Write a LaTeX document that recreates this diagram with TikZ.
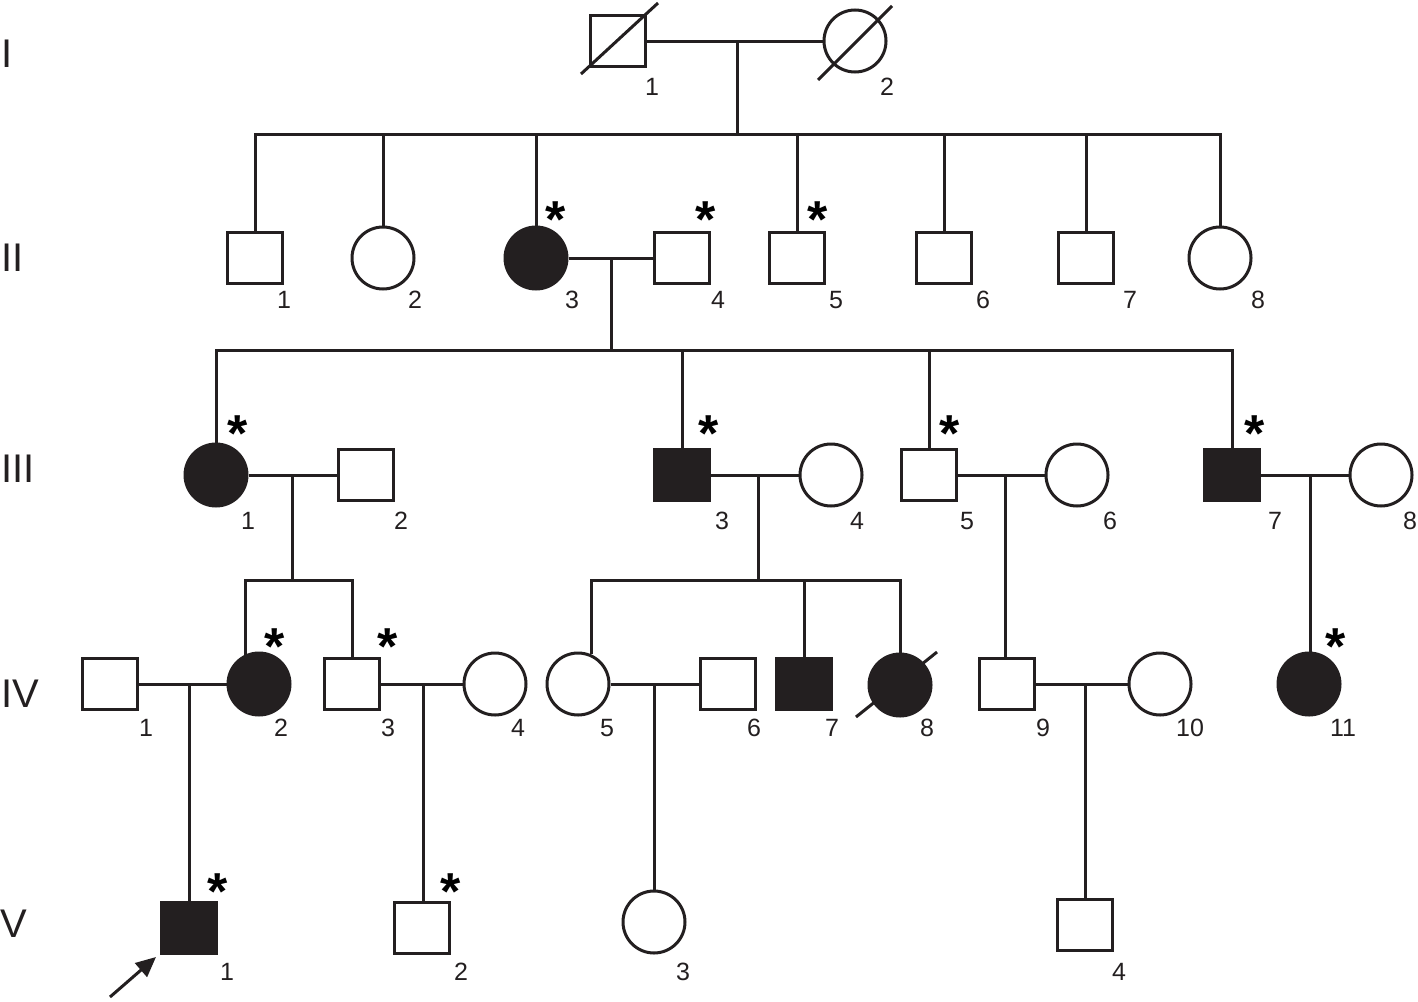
\documentclass[tikz,border=0pt]{standalone}
\usepackage{fontspec}
\setmainfont{Liberation Sans}
\usetikzlibrary{arrows.meta}
\definecolor{ink}{RGB}{35,31,32}
\begin{document}
\begin{tikzpicture}[x=1pt,y=-1pt,
  link/.style={line width=3pt,draw=ink},
  male/.style={draw=ink,rectangle,minimum width=55pt,minimum height=51pt,inner sep=0pt,line width=3pt,fill=white},
  female/.style={draw=ink,circle,minimum size=62pt,inner sep=0pt,line width=3pt,fill=white},
  aff/.style={fill=ink},
  num/.style={font=\fontsize{25}{25}\selectfont,inner sep=0pt,text=ink},
  gen/.style={font=\fontsize{40}{40}\selectfont,anchor=west,inner sep=0pt,text=ink},
  star/.style={font=\fontsize{52}{52}\selectfont\bfseries,inner sep=0pt,anchor=north,text=black},
]
\useasboundingbox (0,0) rectangle (1418,1001);

% generation labels
\node[gen] (gI) at (1,54) {I};
\node[gen] (gII) at (1,258) {II};
\node[gen] (gIII) at (1,469) {III};
\node[gen] (gIV) at (1,694) {IV};
\node[gen] (gV) at (0,924) {V};

% Generation I
\node[male] (I1) at (618,41) {};
\node[female] (I2) at (855,41) {};
\draw[link] (I1.center) ++(-37,33) -- ++(77,-71);
\draw[link] (I2.center) ++(-37,39) -- ++(74,-74);
\node[num] (nI1) at (652,87) {1};
\node[num] (nI2) at (887,87) {2};

% Generation II
\node[male] (II1) at (255,258) {};
\node[female] (II2) at (383,258) {};
\node[female,aff] (II3) at (536,258) {};
\node[male] (II4) at (682,258) {};
\node[male] (II5) at (797,258) {};
\node[male] (II6) at (944,258) {};
\node[male] (II7) at (1086,258) {};
\node[female] (II8) at (1220,258) {};
\foreach \n/\x in {1/284,2/415,3/572,4/718,5/836,6/983,7/1130,8/1258}
  \node[num] (nII\n) at (\x,300) {\n};

% Generation III
\node[female,aff] (III1) at (216,475) {};
\node[male] (III2) at (366,475) {};
\node[male,aff] (III3) at (682,475) {};
\node[female] (III4) at (831,475) {};
\node[male] (III5) at (929,475) {};
\node[female] (III6) at (1077,475) {};
\node[male,aff] (III7) at (1232,475) {};
\node[female] (III8) at (1381,475) {};
\foreach \n/\x in {1/248,2/401,3/722,4/857,5/967,6/1110,7/1275,8/1410}
  \node[num] (nIII\n) at (\x,521) {\n};

% Generation IV
\node[male] (IV1) at (110,684) {};
\node[female,aff] (IV2) at (259,684) {};
\node[male] (IV3) at (352,684) {};
\node[female] (IV4) at (495,684) {};
\node[female] (IV5) at (578,684) {};
\node[male] (IV6) at (728,684) {};
\node[male,aff] (IV7) at (804,684) {};
\node[female,aff] (IV8) at (900,685) {};
\node[male] (IV9) at (1007,684) {};
\node[female] (IV10) at (1160,684) {};
\node[female,aff] (IV11) at (1309,684) {};
\draw[link] (IV8.center) ++(-44,32) -- ++(81,-65);
\foreach \n/\x in {1/146,2/281,3/388,4/518,5/607,6/754,7/832,8/927,9/1043,10/1190,11/1343}
  \node[num] (nIV\n) at (\x,728) {\n};

% Generation V
\node[male,aff] (V1) at (189,928) {};
\node[male] (V2) at (422,928) {};
\node[female] (V3) at (654,922) {};
\node[male] (V4) at (1085,925) {};
\node[num] (nV1) at (227,972) {1};
\node[num] (nV2) at (461,972) {2};
\node[num] (nV3) at (683,972) {3};
\node[num] (nV4) at (1119,972) {4};

% asterisks
\foreach \nm/\x/\y in {sII3/556/210,sII4/706/210,sII5/818/210,
  sIII1/238/424,sIII3/709/424,sIII5/950/424,sIII7/1255/424,
  sIV2/275/637,sIV3/388/637,sIV11/1336/637,sV1/218/882,sV2/451/882}
  \node[star] (\nm) at (\x,\y-8) {*};

% coordinates
\coordinate (m1) at (737,41);
\coordinate (s2) at (737,134);
\coordinate (m2) at (611,258);
\coordinate (s3) at (611,350);
\coordinate (m3) at (292,475);
\coordinate (s4a) at (292,580);
\coordinate (m4) at (758,475);
\coordinate (s4b) at (758,580);
\coordinate (m5) at (1005,475);
\coordinate (m6) at (1310,475);
\coordinate (m7) at (189,684);
\coordinate (m8) at (423,684);
\coordinate (m9) at (654,684);
\coordinate (m10) at (1085,684);

% connectors
\draw[link] (I1.east) -- (I2.west);
\draw[link] (m1) -- (s2);
\draw[link] (II1.north) |- (s2) -| (II8.north);
\foreach \n in {II2,II3,II5,II6,II7}
  \draw[link] (\n.north) -- (\n.north |- s2);

\draw[link] (II3.east) -- (II4.west);
\draw[link] (m2) -- (s3);
\draw[link] (III1.north) |- (s3) -| (III7.north);
\foreach \n in {III3,III5}
  \draw[link] (\n.north) -- (\n.north |- s3);

\draw[link] (III1.east) -- (III2.west);
\draw[link] (m3) -- (s4a);
\draw[link] (IV2.115) |- (s4a) -| (IV3.north);

\draw[link] (III3.east) -- (III4.west);
\draw[link] (m4) -- (s4b);
\draw[link] (IV5.66) |- (s4b) -| (IV8.north);
\draw[link] (IV7.north) -- (IV7.north |- s4b);

\draw[link] (III5.east) -- (III6.west);
\draw[link] (m5) -- (m5 |- IV9.north);
\draw[link] (III7.east) -- (III8.west);
\draw[link] (m6) -- (m6 |- IV11.north);

\draw[link] (IV1.east) -- (IV2.west);
\draw[link] (m7) -- (V1.north);
\draw[link] (IV3.east) -- (IV4.west);
\draw[link] (m8) -- (m8 |- V2.north);
\draw[link] (IV5.east) -- (IV6.west);
\draw[link] (m9) -- (V3.north);
\draw[link] (IV9.east) -- (IV10.west);
\draw[link] (m10) -- (V4.north);

% proband arrow
\coordinate (arr) at (110,997);
\draw[link,-{Triangle[length=20pt,width=18pt]}] (arr) -- ([shift={(-4pt,-2pt)}]V1.south west);
\end{tikzpicture}
\end{document}
